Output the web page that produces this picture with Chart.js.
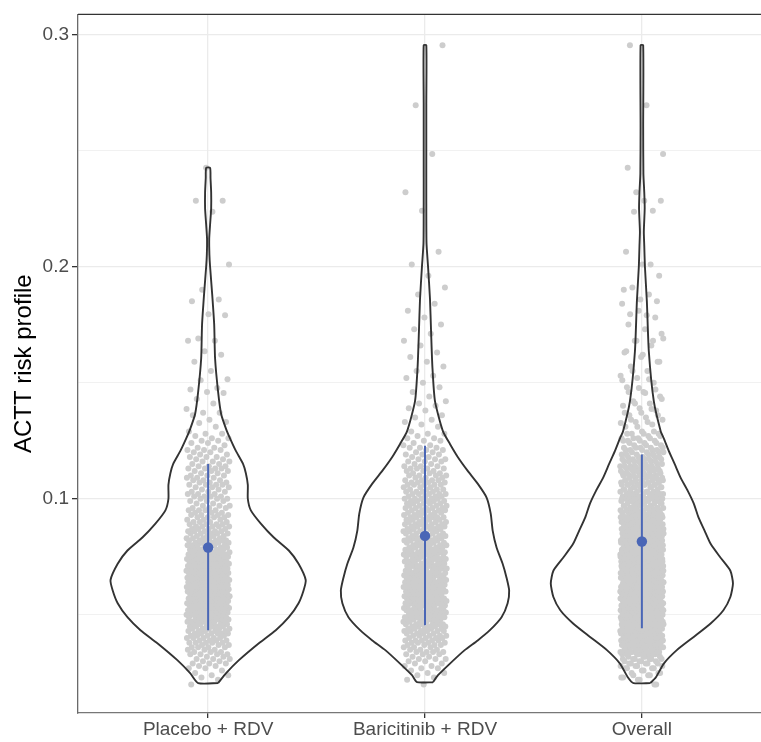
<!DOCTYPE html>
<html>
<head>
<meta charset="utf-8">
<title>ACTT risk profile</title>
<script src="https://cdn.jsdelivr.net/npm/chart.js@4.4.1/dist/chart.umd.min.js"></script>
<style>
    html, body { margin: 0; padding: 0; background: #fff; overflow: hidden; }
    #wrap { width: 800px; height: 742px; }
</style>
</head>
<body>
<div id="wrap"><canvas id="myChart" width="800" height="742"></canvas></div>
<script>
// Categories and axis ticks
const categories = ['Placebo + RDV', 'Baricitinib + RDV', 'Overall'];
const yTicks = [0.1, 0.2, 0.3];
const yMinorTicks = [0.05, 0.15, 0.25];

// Blue summary: mean dot and interval line
const meanValues = [0.079, 0.084, 0.0816];
const lowerValues = [0.0434, 0.0455, 0.0442];
const upperValues = [0.115, 0.1228, 0.119];

// Violin outlines: risk level and half width (category units)
const placeboViolinY = [0.0206, 0.0249, 0.0305, 0.0378, 0.0434, 0.049, 0.055, 0.0605, 0.065, 0.072, 0.0777, 0.0833, 0.0893, 0.095, 0.100, 0.106, 0.111, 0.115, 0.1206, 0.126, 0.130, 0.1365, 0.146, 0.1605, 0.175, 0.189, 0.200, 0.205, 0.212, 0.218, 0.225, 0.232, 0.238, 0.2425];
const placeboViolinW = [0.046, 0.083, 0.142, 0.234, 0.312, 0.372, 0.417, 0.440, 0.450, 0.417, 0.372, 0.303, 0.243, 0.197, 0.183, 0.183, 0.174, 0.161, 0.128, 0.101, 0.083, 0.060, 0.046, 0.032, 0.028, 0.018, 0.009, 0.006, 0.005, 0.009, 0.014, 0.014, 0.011, 0.009];
const bariViolinY = [0.021, 0.024, 0.029, 0.0348, 0.039, 0.0433, 0.049, 0.055, 0.0605, 0.066, 0.072, 0.079, 0.0863, 0.0936, 0.1005, 0.1065, 0.112, 0.118, 0.1236, 0.129, 0.142, 0.157, 0.172, 0.186, 0.200, 0.210, 0.227, 0.250, 0.270, 0.2953];
const bariViolinW = [0.037, 0.060, 0.115, 0.183, 0.243, 0.298, 0.353, 0.381, 0.388, 0.376, 0.358, 0.330, 0.312, 0.303, 0.284, 0.243, 0.197, 0.151, 0.115, 0.083, 0.046, 0.034, 0.028, 0.023, 0.014, 0.007, 0.006, 0.006, 0.006, 0.006];
const overallViolinY = [0.0206, 0.023, 0.029, 0.0348, 0.0405, 0.0463, 0.052, 0.0577, 0.0635, 0.069, 0.0747, 0.0806, 0.0863, 0.092, 0.098, 0.1035, 0.109, 0.115, 0.1206, 0.126, 0.129, 0.142, 0.1635, 0.185, 0.200, 0.209, 0.215, 0.225, 0.232, 0.240, 0.260, 0.2953];
const overallViolinW = [0.039, 0.064, 0.101, 0.161, 0.239, 0.317, 0.376, 0.408, 0.420, 0.408, 0.362, 0.317, 0.289, 0.261, 0.239, 0.211, 0.179, 0.151, 0.124, 0.101, 0.087, 0.055, 0.032, 0.023, 0.014, 0.011, 0.009, 0.013, 0.011, 0.007, 0.006, 0.006];

// Patient risk values: number of patients at each risk level (body), plus single high values
const riskLevels = [
    0.020, 0.021, 0.022, 0.023, 0.024, 0.025, 0.026, 0.027, 0.028, 0.029,
    0.030, 0.031, 0.032, 0.033, 0.034, 0.035, 0.036, 0.037, 0.038, 0.039,
    0.040, 0.041, 0.042, 0.043, 0.044, 0.045, 0.046, 0.047, 0.048, 0.049,
    0.050, 0.051, 0.052, 0.053, 0.054, 0.055, 0.056, 0.057, 0.058, 0.059,
    0.060, 0.061, 0.062, 0.063, 0.064, 0.065, 0.066, 0.067, 0.068, 0.069,
    0.070, 0.071, 0.072, 0.073, 0.074, 0.075, 0.076, 0.077, 0.078, 0.079,
    0.080, 0.081, 0.082, 0.083, 0.084, 0.085, 0.086, 0.087, 0.088, 0.089,
    0.090, 0.091, 0.092, 0.093, 0.094, 0.095, 0.096, 0.097, 0.098, 0.099,
    0.100, 0.101, 0.102, 0.103, 0.104, 0.105, 0.106, 0.107, 0.108, 0.109,
    0.110, 0.111, 0.112, 0.113, 0.114, 0.115, 0.116, 0.117, 0.118, 0.119,
    0.120, 0.121, 0.122, 0.123, 0.124, 0.125, 0.126, 0.127, 0.128, 0.129
];
const placeboCounts = [
    1, 0, 1, 1, 2, 1, 1, 2, 2, 3,
    2, 3, 2, 4, 3, 3, 4, 3, 5, 4,
    5, 4, 6, 5, 5, 6, 5, 7, 6, 6,
    7, 6, 7, 8, 7, 6, 8, 7, 7, 8,
    7, 8, 9, 7, 8, 8, 9, 7, 8, 7,
    7, 8, 6, 7, 7, 6, 8, 6, 6, 5,
    6, 5, 6, 5, 4, 5, 5, 4, 5, 4,
    4, 3, 4, 4, 3, 4, 3, 3, 2, 3,
    3, 4, 3, 3, 2, 3, 4, 3, 3, 3,
    3, 2, 3, 4, 3, 2, 3, 2, 3, 2,
    2, 3, 2, 1, 2, 2, 2, 1, 2, 1
];
const bariCounts = [
    1, 0, 1, 1, 1, 2, 1, 2, 2, 2,
    2, 3, 2, 3, 4, 3, 3, 4, 4, 5,
    4, 5, 4, 6, 5, 5, 6, 5, 6, 7,
    6, 6, 7, 5, 6, 7, 6, 7, 6, 6,
    7, 6, 7, 6, 7, 6, 6, 7, 6, 5,
    6, 7, 5, 6, 6, 5, 7, 6, 6, 5,
    6, 5, 5, 6, 5, 5, 4, 6, 5, 5,
    5, 5, 6, 4, 5, 5, 5, 4, 5, 5,
    5, 4, 5, 4, 4, 3, 5, 4, 4, 3,
    4, 3, 3, 4, 3, 2, 3, 3, 2, 3,
    2, 2, 3, 2, 1, 2, 2, 1, 2, 1
];
const placeboHigh = [0.131, 0.1326, 0.133, 0.134, 0.136, 0.137, 0.137, 0.1386, 0.141, 0.143, 0.1455, 0.146, 0.147, 0.1477, 0.151, 0.1515, 0.155, 0.159, 0.162, 0.1635, 0.168, 0.168, 0.169, 0.179, 0.1794, 0.185, 0.1858, 0.190, 0.2009, 0.2236, 0.2283, 0.2283, 0.2425];
const bariHigh = [0.131, 0.132, 0.133, 0.134, 0.135, 0.136, 0.138, 0.139, 0.140, 0.141, 0.142, 0.144, 0.146, 0.148, 0.150, 0.152, 0.153, 0.155, 0.157, 0.159, 0.161, 0.163, 0.166, 0.168, 0.171, 0.173, 0.175, 0.178, 0.181, 0.184, 0.188, 0.191, 0.196, 0.2009, 0.2064, 0.224, 0.232, 0.2485, 0.2695, 0.2953];

const blue = '#4a66b6';
const jitterWidth = 0.1;

Chart.defaults.font.family = "'Liberation Sans', Arial, Helvetica, sans-serif";

function expandValues(counts, high) {
    const vals = [];
    riskLevels.forEach((v, i) => {
        for (let k = 0; k < counts[i]; k++) vals.push(v);
    });
    return vals.concat(high);
}

// spread points sideways (golden ratio steps, no randomness)
function jitterPoints(center, vals, seed) {
    return vals.map((y, i) => ({
        x: center + (((i * 0.618034 + seed) % 1) - 0.5) * 2 * jitterWidth,
        y: y
    }));
}

function violinOutline(center, ys, ws) {
    const right = ys.map((y, i) => ({ x: center + ws[i], y: y }));
    const left = ys.map((y, i) => ({ x: center - ws[i], y: y })).reverse();
    return right.concat(left, [right[0]]);
}

const placeboVals = expandValues(placeboCounts, placeboHigh);
const bariVals = expandValues(bariCounts, bariHigh);
const overallVals = placeboVals.concat(bariVals);

const pointStyle = {
    showLine: false,
    pointRadius: 3.0,
    pointBackgroundColor: '#cdcdcd',
    pointBorderWidth: 0,
    order: 3
};
const violinStyle = {
    showLine: true,
    fill: false,
    tension: 0.2,
    borderColor: '#333333',
    borderWidth: 1.9,
    pointRadius: 0,
    order: 2
};

const datasets = [
    Object.assign({ data: jitterPoints(1, placeboVals, 0.11) }, pointStyle),
    Object.assign({ data: jitterPoints(2, bariVals, 0.47) }, pointStyle),
    Object.assign({ data: jitterPoints(3, overallVals, 0.83) }, pointStyle),
    Object.assign({ data: violinOutline(1, placeboViolinY, placeboViolinW) }, violinStyle),
    Object.assign({ data: violinOutline(2, bariViolinY, bariViolinW) }, violinStyle),
    Object.assign({ data: violinOutline(3, overallViolinY, overallViolinW) }, violinStyle)
];

categories.forEach((c, i) => {
    datasets.push({
        data: [{ x: i + 1, y: lowerValues[i] }, { x: i + 1, y: upperValues[i] }],
        showLine: true,
        borderColor: blue,
        borderWidth: 2,
        pointRadius: 0,
        order: 1
    });
});
datasets.push({
    data: meanValues.map((m, i) => ({ x: i + 1, y: m })),
    showLine: false,
    pointRadius: 5.2,
    pointBackgroundColor: blue,
    pointBorderWidth: 0,
    order: 0
});

// top (and right) edge of the panel border
const panelBorder = {
    id: 'panelBorder',
    afterDraw(chart) {
        const { ctx, chartArea } = chart;
        ctx.save();
        ctx.strokeStyle = '#333333';
        ctx.lineWidth = 1.3;
        ctx.beginPath();
        ctx.moveTo(chartArea.left, chartArea.top);
        ctx.lineTo(chartArea.right, chartArea.top);
        ctx.lineTo(chartArea.right, chartArea.bottom);
        ctx.stroke();
        ctx.restore();
    }
};

const isMajor = (v) => yTicks.some(t => Math.abs(t - v) < 1e-9);

const ctx = document.getElementById('myChart').getContext('2d');
const myChart = new Chart(ctx, {
    type: 'scatter',
    data: { datasets: datasets },
    options: {
        responsive: false,
        devicePixelRatio: 1,
        animation: false,
        events: [],
        layout: { padding: { top: 12, right: 28, left: 0, bottom: 0 } },
        plugins: {
            legend: { display: false },
            tooltip: { enabled: false }
        },
        scales: {
            x: {
                type: 'linear',
                min: 0.4,
                max: 3.6,
                afterBuildTicks: (axis) => { axis.ticks = [1, 2, 3].map(v => ({ value: v })); },
                afterFit: (axis) => { axis.height = 29; },
                ticks: {
                    autoSkip: false,
                    maxRotation: 0,
                    padding: 0,
                    color: '#4d4d4d',
                    font: { size: 19 },
                    callback: (v) => categories[v - 1]
                },
                grid: {
                    color: '#ebebeb',
                    lineWidth: 1.3,
                    tickLength: 5,
                    tickColor: '#333333',
                    tickWidth: 1.3
                },
                border: { color: '#777777', width: 1.3 }
            },
            y: {
                type: 'linear',
                min: 0.00773,
                max: 0.30858,
                afterBuildTicks: (axis) => {
                    axis.ticks = yMinorTicks.concat(yTicks).sort((a, b) => a - b).map(v => ({ value: v }));
                },
                afterFit: (axis) => { axis.width = 78; },
                ticks: {
                    autoSkip: false,
                    padding: 3,
                    color: '#4d4d4d',
                    font: { size: 19 },
                    callback: (v) => isMajor(v) ? v.toFixed(1) : ''
                },
                grid: {
                    color: '#ebebeb',
                    lineWidth: (c) => (c.tick && isMajor(c.tick.value)) ? 1.3 : 0.7,
                    tickLength: 6,
                    tickColor: (c) => (c.tick && isMajor(c.tick.value)) ? '#333333' : 'rgba(0,0,0,0)',
                    tickWidth: 1.3
                },
                border: { color: '#6a6a6a', width: 1.3 },
                title: {
                    display: true,
                    text: 'ACTT risk profile',
                    color: '#000000',
                    font: { size: 24 },
                    padding: { top: 10, bottom: 0 }
                }
            }
        }
    },
    plugins: [panelBorder]
});
</script>
</body>
</html>
